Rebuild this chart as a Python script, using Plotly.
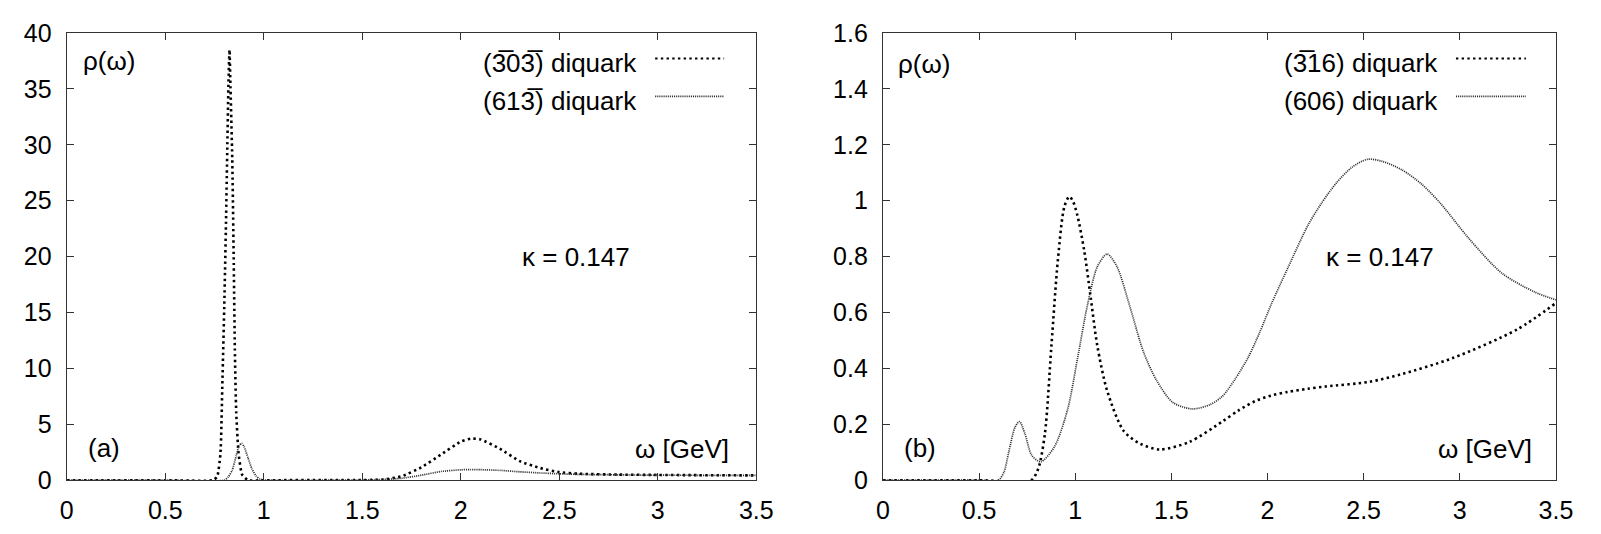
import plotly.graph_objects as go

# ---- panel (a): spectral functions, kappa = 0.147 ----
omega_a1 = [0.0, 0.5, 0.74, 0.763, 0.78, 0.79, 0.80, 0.808, 0.815, 0.821, 0.826,
            0.83, 0.84, 0.847, 0.853, 0.86, 0.872, 0.89, 0.92, 1.0, 1.5, 1.6, 1.7,
            1.8, 1.9, 2.0, 2.05, 2.1, 2.2, 2.3, 2.4, 2.5, 2.6, 2.8, 3.0, 3.2, 3.5]
rho_a1 = [0.0, 0.0, 0.0, 0.3, 2.4, 8.9, 16.0, 23.0, 30.0, 35.8, 38.5,
          35.8, 28.7, 20.2, 11.8, 6.1, 2.4, 0.5, 0.0, 0.0, 0.02, 0.05, 0.35,
          1.15, 2.3, 3.45, 3.72, 3.65, 2.8, 1.7, 1.1, 0.72, 0.58, 0.5, 0.47, 0.45, 0.43]

omega_a2 = [0.0, 0.5, 0.80, 0.82, 0.84, 0.86, 0.875, 0.888, 0.90, 0.92, 0.94, 0.96,
            0.98, 1.0, 1.5, 1.6, 1.7, 1.8, 1.9, 2.0, 2.05, 2.1, 2.2, 2.3, 2.4, 2.5,
            2.6, 2.8, 3.0, 3.2, 3.5]
rho_a2 = [0.0, 0.0, 0.0, 0.3, 0.9, 2.2, 3.1, 3.3, 3.0, 2.0, 1.0, 0.4,
          0.1, 0.02, 0.02, 0.06, 0.17, 0.45, 0.78, 0.93, 0.95, 0.94, 0.88, 0.75, 0.65, 0.57,
          0.52, 0.48, 0.45, 0.44, 0.43]

# ---- panel (b) ----
omega_b1 = [0.0, 0.5, 0.77, 0.807, 0.842, 0.876, 0.91, 0.944, 0.97, 0.99, 1.012,
            1.047, 1.081, 1.115, 1.166, 1.252, 1.337, 1.44, 1.594, 1.765, 1.85, 1.936,
            2.02, 2.106, 2.209, 2.3, 2.53, 2.7, 2.96, 3.3, 3.5]
rho_b1 = [0.0, 0.0, 0.0, 0.04, 0.165, 0.48, 0.79, 0.98, 1.015, 0.995, 0.945,
          0.82, 0.65, 0.48, 0.32, 0.176, 0.131, 0.11, 0.137, 0.21, 0.25, 0.283,
          0.303, 0.316, 0.327, 0.335, 0.352, 0.38, 0.436, 0.54, 0.634]

omega_b2 = [0.0, 0.5, 0.6, 0.63, 0.653, 0.687, 0.71, 0.739, 0.773, 0.82, 0.892,
            0.961, 1.012, 1.064, 1.115, 1.166, 1.217, 1.286, 1.355, 1.423, 1.508,
            1.61, 1.7, 1.765, 1.83, 1.9, 1.96, 2.02, 2.106, 2.209, 2.28, 2.36, 2.44,
            2.52, 2.6, 2.7, 2.8, 2.9, 3.047, 3.218, 3.39, 3.5]
rho_b2 = [0.0, 0.0, 0.0, 0.03, 0.097, 0.19, 0.21, 0.165, 0.09, 0.066, 0.12,
          0.255, 0.436, 0.628, 0.764, 0.809, 0.764, 0.617, 0.459, 0.357, 0.278,
          0.255, 0.27, 0.30, 0.36, 0.44, 0.53, 0.63, 0.76, 0.91, 0.99, 1.065, 1.12,
          1.148, 1.14, 1.11, 1.06, 0.99, 0.865, 0.741, 0.673, 0.645]

x_ticks = [0, 0.5, 1, 1.5, 2, 2.5, 3, 3.5]
x_ticktext = ["0", "0.5", "1", "1.5", "2", "2.5", "3", "3.5"]
ya_ticks = [0, 5, 10, 15, 20, 25, 30, 35, 40]
yb_ticks = [0, 0.2, 0.4, 0.6, 0.8, 1.0, 1.2, 1.4, 1.6]
yb_ticktext = ["0", "0.2", "0.4", "0.6", "0.8", "1", "1.2", "1.4", "1.6"]

labels_a = ["(3\u030503\u0305) diquark", "(613\u0305) diquark"]
labels_b = ["(3\u030516) diquark", "(606) diquark"]

W, H = 1601, 534
FONT = "Liberation Sans, Arial, Helvetica, sans-serif"
TICK_SIZE = 25
TEXT_SIZE = 26

heavy = dict(color="black", width=2.6, dash="2.4px,3.3px")
fine = dict(color="#2e2e2e", width=1.7, dash="1.1px,1px")

fig = go.Figure()
fig.add_trace(go.Scatter(x=omega_a1, y=rho_a1, mode="lines", line=dict(**heavy, shape="spline", smoothing=0.5),
                         xaxis="x", yaxis="y", showlegend=False))
fig.add_trace(go.Scatter(x=omega_a2, y=rho_a2, mode="lines", line=dict(**fine, shape="spline", smoothing=0.5),
                         xaxis="x", yaxis="y", showlegend=False))
fig.add_trace(go.Scatter(x=omega_b1, y=rho_b1, mode="lines", line=dict(**heavy, shape="spline", smoothing=0.8),
                         xaxis="x2", yaxis="y2", showlegend=False))
fig.add_trace(go.Scatter(x=omega_b2, y=rho_b2, mode="lines", line=dict(**fine, shape="spline", smoothing=0.8),
                         xaxis="x2", yaxis="y2", showlegend=False))

ydom = [(534 - 492) / H, (534 - 20) / H]
dom_a = [60.7 / W, 760.7 / W]
dom_b = [889.3 / W, 1572.5 / W]

axis_common = dict(
    showgrid=False, zeroline=False, showline=True, mirror="ticks",
    linecolor="#333", linewidth=1.3, ticks="inside", ticklen=7,
    tickcolor="#333", tickwidth=1.2,
    tickfont=dict(family=FONT, size=TICK_SIZE, color="black"),
)

fig.update_layout(
    width=W, height=H,
    margin=dict(l=0, r=0, t=0, b=0),
    paper_bgcolor="white", plot_bgcolor="white",
    xaxis=dict(domain=dom_a, range=[0, 3.5], anchor="y", tickvals=x_ticks, ticktext=x_ticktext,
               ticklabelstandoff=8, **axis_common),
    yaxis=dict(domain=ydom, range=[0, 40], anchor="x", tickvals=ya_ticks,
               ticklabelstandoff=9, **axis_common),
    xaxis2=dict(domain=dom_b, range=[0, 3.5], anchor="y2", tickvals=x_ticks, ticktext=x_ticktext,
                ticklabelstandoff=8, **axis_common),
    yaxis2=dict(domain=ydom, range=[0, 1.6], anchor="x2", tickvals=yb_ticks, ticktext=yb_ticktext,
                ticklabelstandoff=9, **axis_common),
    font=dict(family=FONT, color="black"),
)

def px_x(p):
    return p / W

def px_y(p):
    return 1 - p / H

ann = []
shapes = []
# text labels inside each panel
for xr, yr, ymax in (("x", "y", 40.0), ("x2", "y2", 1.6)):
    f = ymax / 40.0
    ann.append(dict(x=0.07, y=37.5 * f if xr == "x" else 1.49, xref=xr, yref=yr, text="\u03c1(\u03c9)",
                    showarrow=False, xanchor="left", yanchor="middle", font=dict(size=TEXT_SIZE, family=FONT)))
    ann.append(dict(x=2.585, y=20.0 * f, xref=xr, yref=yr, text="\u03ba = 0.147",
                    showarrow=False, xanchor="center", yanchor="middle", font=dict(size=TEXT_SIZE, family=FONT)))
    ann.append(dict(x=3.37 if xr == "x" else 3.385, y=2.8 * f, xref=xr, yref=yr, text="\u03c9 [GeV]",
                    showarrow=False, xanchor="right", yanchor="middle", font=dict(size=TEXT_SIZE, family=FONT)))
    ann.append(dict(x=0.1, y=2.9 * f, xref=xr, yref=yr, text="(a)" if xr == "x" else "(b)",
                    showarrow=False, xanchor="left", yanchor="middle", font=dict(size=TEXT_SIZE, family=FONT)))

# legend entries: text on the left, line sample on the right
legend_rows = [(52, 47), (92, 87)]
for labels, text_right, (l0, l1) in ((labels_a, 642, (658, 728)), (labels_b, 1455, (1471, 1542))):
    for i, lab in enumerate(labels):
        ty, ly = legend_rows[i]
        ann.append(dict(x=px_x(text_right), y=px_y(ty), xref="paper", yref="paper", text=lab,
                        showarrow=False, xanchor="right", yanchor="middle", font=dict(size=TEXT_SIZE, family=FONT)))
        style = heavy if i == 0 else fine
        shapes.append(dict(type="line", xref="paper", yref="paper",
                           x0=px_x(l0), x1=px_x(l1), y0=px_y(ly), y1=px_y(ly),
                           line=dict(color=style["color"], width=style["width"] * (0.8 if i == 0 else 1.0),
                                     dash=style["dash"])))

fig.update_layout(annotations=ann, shapes=shapes)
fig.write_html("out.html")
